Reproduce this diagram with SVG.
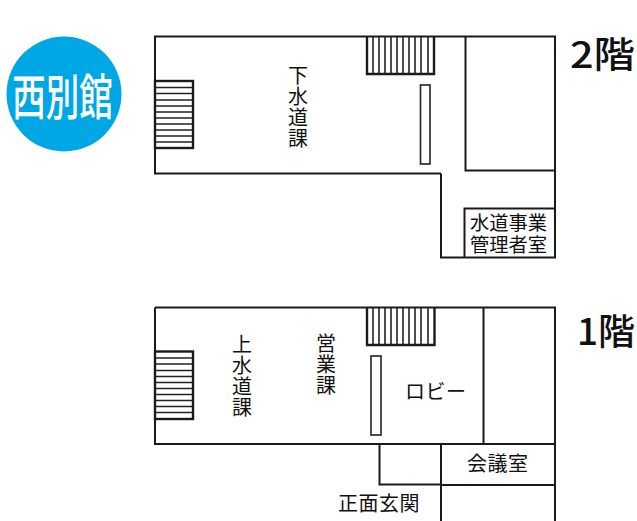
<svg xmlns="http://www.w3.org/2000/svg" width="637" height="521" viewBox="0 0 637 521">
<style>
.w{fill:none;stroke:#1a1a1a;stroke-width:2}
.s{fill:none;stroke:#1a1a1a;stroke-width:2.4}
.l{fill:none;stroke:#222;stroke-width:1.6}
text{font-family:"Noto Sans CJK JP","Noto Sans CJK SC",sans-serif;fill:#111}
.t{font-size:19.300px}
.u{font-size:20px;letter-spacing:.5px}
.v{font-size:20px;writing-mode:vertical-rl;letter-spacing:1px}
.f{font-size:36px;font-weight:500}
</style>
<rect width="637" height="521" fill="#fff"/>
<g id="badge"><circle cx="64" cy="94" r="57.5" fill="#00a7e5"/><text transform="translate(62.500 114.500) scale(1 1.46)" text-anchor="middle" font-size="33.500" font-weight="500" style="fill:#fff">西別館</text></g>
<g id="floor2">
<path class="w" d="M441 173.500H155V36.500H555V257.500H441V173.500M465.500 36.500V170.500H555M464.500 257.500V208.500H555"/>
<rect class="l" x="420.500" y="85" width="9.500" height="79"/>
<g id="stairs2-left"><rect class="s" x="155" y="81" width="38" height="67"/><path class="l" d="M155 87.500H193M155 93.500H193M155 100H193M155 106H193M155 112H193M155 118H193M155 124H193M155 130H193M155 136H193M155 142H193"/></g>
<g id="stairs2-top"><path class="s" d="M367 36.500V74H434V36.500"/><path class="l" d="M373 37V74M379 37V74M385 37V74M391 37V74M397 37V74M403 37V74M409 37V74M415 37V74M421 37V74M428 37V74"/></g>
<text class="v" x="298" y="65">下水道課</text>
<text class="t"><tspan x="470" y="230">水道事業</tspan><tspan x="470" y="252">管理者室</tspan></text>
<text class="f" x="570" y="68" textLength="65" lengthAdjust="spacingAndGlyphs">2階</text>
</g>
<g id="floor1">
<path class="w" d="M155 307.500H555V521M155 307.500V444H555M483.500 307.500V444M441 444V521M441 485H555M379.500 444V484.500H441"/>
<rect class="l" x="371" y="356" width="10" height="79"/>
<g id="stairs1-left"><rect class="s" x="155" y="351.500" width="38" height="67.500"/><path class="l" d="M155 358H193M155 364H193M155 370.500H193M155 376.500H193M155 382.500H193M155 388.500H193M155 394.500H193M155 400.500H193M155 406.500H193M155 412.500H193"/></g>
<g id="stairs1-top"><path class="s" d="M367 307.500V345H434.500V307.500"/><path class="l" d="M373 308V345M379 308V345M385 308V345M391 308V345M397 308V345M403 308V345M409 308V345M415 308V345M421 308V345M428 308V345"/></g>
<text class="v" x="242" y="334">上水道課</text>
<text class="v" x="326" y="333">営業課</text>
<text class="u" x="405" y="399">ロビー</text>
<text class="u" x="467" y="471">会議室</text>
<text class="u" x="338" y="511">正面玄関</text>
<text class="f" x="577" y="345" textLength="58" lengthAdjust="spacingAndGlyphs">1階</text>
</g>
</svg>
